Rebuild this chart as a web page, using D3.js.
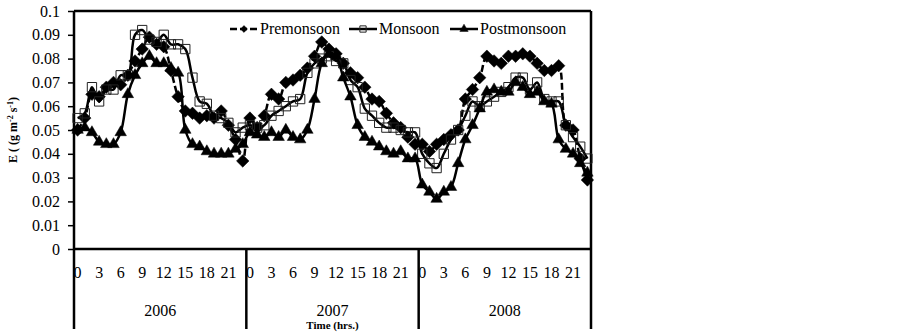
<!DOCTYPE html>
<html>
<head>
<meta charset="utf-8">
<script src="https://cdn.jsdelivr.net/npm/d3@7"></script>
<style>
  body { margin: 0; background: #fff; }
  text { font-family: "Liberation Serif", "Times New Roman", serif; }
</style>
</head>
<body>
<div id="my_dataviz"></div>
<script>
// categories
var years = ["2006", "2007", "2008"];
var hours = d3.range(0, 24);
var hourTicks = ["0", "3", "6", "9", "12", "15", "18", "21"];
var yTicks = [0, 0.01, 0.02, 0.03, 0.04, 0.05, 0.06, 0.07, 0.08, 0.09, 0.1];

// series values, one list per year (hours 0..23)
var pre2006 = [0.050, 0.055, 0.065, 0.064, 0.068, 0.070, 0.069, 0.073, 0.079, 0.084, 0.089, 0.086, 0.085, 0.075, 0.064, 0.058, 0.057, 0.055, 0.056, 0.055, 0.058, 0.052, 0.046, 0.037];
var pre2007 = [0.055, 0.051, 0.056, 0.065, 0.063, 0.070, 0.071, 0.073, 0.076, 0.081, 0.087, 0.084, 0.082, 0.078, 0.074, 0.072, 0.068, 0.063, 0.062, 0.057, 0.053, 0.051, 0.047, 0.044];
var pre2008 = [0.044, 0.041, 0.044, 0.046, 0.048, 0.050, 0.063, 0.067, 0.072, 0.081, 0.079, 0.078, 0.081, 0.081, 0.082, 0.081, 0.078, 0.075, 0.075, 0.077, 0.052, 0.050, 0.038, 0.029];

var mon2006 = [0.055, 0.057, 0.068, 0.062, 0.067, 0.067, 0.073, 0.073, 0.090, 0.092, 0.088, 0.087, 0.090, 0.086, 0.086, 0.084, 0.072, 0.062, 0.061, 0.056, 0.055, 0.053, 0.049, 0.051];
var mon2007 = [0.052, 0.051, 0.052, 0.056, 0.058, 0.060, 0.062, 0.063, 0.074, 0.078, 0.080, 0.081, 0.079, 0.078, 0.071, 0.068, 0.059, 0.056, 0.053, 0.051, 0.051, 0.050, 0.049, 0.049];
var mon2008 = [0.040, 0.036, 0.034, 0.040, 0.046, 0.050, 0.056, 0.062, 0.060, 0.062, 0.064, 0.066, 0.068, 0.072, 0.072, 0.067, 0.070, 0.063, 0.062, 0.062, 0.052, 0.047, 0.043, 0.038];

var post2006 = [0.050, 0.051, 0.049, 0.045, 0.044, 0.044, 0.049, 0.065, 0.073, 0.078, 0.081, 0.078, 0.078, 0.076, 0.074, 0.050, 0.044, 0.043, 0.041, 0.040, 0.040, 0.040, 0.042, 0.044];
var post2007 = [0.049, 0.048, 0.047, 0.049, 0.047, 0.050, 0.047, 0.046, 0.050, 0.063, 0.078, 0.082, 0.081, 0.072, 0.064, 0.052, 0.047, 0.045, 0.043, 0.041, 0.040, 0.041, 0.038, 0.038];
var post2008 = [0.027, 0.024, 0.021, 0.024, 0.026, 0.036, 0.046, 0.052, 0.059, 0.066, 0.067, 0.066, 0.066, 0.070, 0.068, 0.065, 0.066, 0.062, 0.061, 0.046, 0.042, 0.040, 0.036, 0.032];

var seriesNames = ["Premonsoon", "Monsoon", "Postmonsoon"];

function scatter_plot() {
    var margin = {top: 11, right: 311, bottom: 86, left: 74},
        width = 902 - margin.left - margin.right,
        height = 335 - margin.top - margin.bottom;

    var svg = d3.select("#my_dataviz")
        .append("svg")
        .attr("width", 902)
        .attr("height", 335)
        .append("g")
        .attr("transform", "translate(" + margin.left + "," + margin.top + ")");

    // one band per (year, hour)
    var cats = [];
    years.forEach(function (yr) {
        hours.forEach(function (h) { cats.push(yr + "-" + h); });
    });

    var x = d3.scaleBand().domain(cats).range([0, width]).padding(0);
    var y = d3.scaleLinear().domain([0, 0.1]).range([height, 0]);
    var xc = function (k) { return x(k) + x.bandwidth() / 2; };

    function build(a, b, c) {
        var out = [];
        [a, b, c].forEach(function (arr, yi) {
            arr.forEach(function (v, h) { out.push({key: years[yi] + "-" + h, v: v}); });
        });
        return out;
    }
    var series = [
        build(pre2006, pre2007, pre2008),
        build(mon2006, mon2007, mon2008),
        build(post2006, post2007, post2008)
    ];

    // Y axis
    var yAxis = svg.append("g")
        .call(d3.axisLeft(y).tickValues(yTicks).tickSize(6).tickPadding(8)
            .tickFormat(function (d) { return d === 0 ? "0" : d3.format("")(+d.toFixed(2)); }));
    yAxis.select(".domain").remove();
    yAxis.selectAll("line").attr("stroke", "#000").attr("stroke-width", 1.5);
    yAxis.selectAll("text")
        .style("font-family", "Liberation Serif, serif")
        .style("font-size", "16px")
        .attr("fill", "#000");

    // frame
    svg.append("line").attr("x1", 0).attr("x2", 0).attr("y1", 0).attr("y2", height + 80)
        .attr("stroke", "#000").attr("stroke-width", 2.5);
    svg.append("line").attr("x1", width).attr("x2", width).attr("y1", 0).attr("y2", height + 80)
        .attr("stroke", "#000").attr("stroke-width", 2.5);
    svg.append("line").attr("x1", 0).attr("x2", width).attr("y1", 0).attr("y2", 0)
        .attr("stroke", "#000").attr("stroke-width", 2.5);
    svg.append("line").attr("x1", 0).attr("x2", width).attr("y1", height).attr("y2", height)
        .attr("stroke", "#000").attr("stroke-width", 2.5);

    // year dividers and labels
    years.forEach(function (yr, i) {
        var x0 = x(yr + "-0");
        if (i > 0) {
            svg.append("line").attr("x1", x0).attr("x2", x0).attr("y1", height).attr("y2", height + 80)
                .attr("stroke", "#000").attr("stroke-width", 2.5);
        }
        hourTicks.forEach(function (t) {
            svg.append("text")
                .attr("x", xc(yr + "-" + t))
                .attr("y", height + 29)
                .attr("text-anchor", "middle")
                .style("font-size", "16px")
                .text(t);
        });
        svg.append("text")
            .attr("x", x0 + 12 * x.bandwidth())
            .attr("y", height + 67)
            .attr("text-anchor", "middle")
            .style("font-size", "16px")
            .text(yr);
    });

    // X label
    svg.append("text")
        .attr("x", width / 2)
        .attr("y", height + 80)
        .attr("text-anchor", "middle")
        .style("font-size", "11px")
        .style("font-weight", "bold")
        .text("Time (hrs.)");

    // Y label
    var yl = svg.append("text")
        .attr("transform", "translate(-57," + (height / 2) + ") rotate(-90)")
        .attr("text-anchor", "middle")
        .style("font-size", "12px")
        .style("font-weight", "bold");
    yl.append("tspan").text("E ( (g m");
    yl.append("tspan").attr("dy", -4).style("font-size", "8px").text("-2");
    yl.append("tspan").attr("dy", 4).text(" s");
    yl.append("tspan").attr("dy", -4).style("font-size", "8px").text("-1");
    yl.append("tspan").attr("dy", 4).text(")");

    var line = d3.line()
        .x(function (d) { return xc(d.key); })
        .y(function (d) { return y(d.v); })
        .curve(d3.curveCatmullRom.alpha(0.5));

    var dashes = ["7,3", null, null];
    var symbols = [d3.symbolDiamond2, d3.symbolSquare2, d3.symbolTriangle2];
    var sizes = [100, 110, 95];
    var fills = ["#000", "none", "#000"];
    var strokes = ["#000", "#222", "#000"];

    series.forEach(function (s, i) {
        svg.append("path")
            .datum(s)
            .attr("d", line)
            .attr("fill", "none")
            .attr("stroke", "#000")
            .attr("stroke-width", 2.5)
            .attr("stroke-dasharray", dashes[i]);
        svg.append("g")
            .selectAll("path")
            .data(s)
            .enter()
            .append("path")
            .attr("d", d3.symbol().type(symbols[i]).size(sizes[i]))
            .attr("transform", function (d) {
                return "translate(" + xc(d.key) + "," + y(d.v) + ")";
            })
            .attr("fill", fills[i])
            .attr("stroke", strokes[i])
            .attr("stroke-width", i === 1 ? 1 : 0.5);
    });

    // legend
    var legX = [156, 275, 376];
    var legY = 18;
    seriesNames.forEach(function (name, i) {
        svg.append("line")
            .attr("x1", legX[i]).attr("x2", legX[i] + 28)
            .attr("y1", legY).attr("y2", legY)
            .attr("stroke", "#000").attr("stroke-width", 2.5)
            .attr("stroke-dasharray", dashes[i]);
        svg.append("path")
            .attr("d", d3.symbol().type(symbols[i]).size(i === 0 ? 30 : 50))
            .attr("transform", "translate(" + (legX[i] + 14) + "," + legY + ")")
            .attr("fill", fills[i])
            .attr("stroke", strokes[i])
            .attr("stroke-width", i === 1 ? 1 : 0.5);
        svg.append("text")
            .attr("x", legX[i] + 30)
            .attr("y", legY + 5)
            .style("font-size", "16px")
            .text(name);
    });
}

scatter_plot();
</script>
</body>
</html>
